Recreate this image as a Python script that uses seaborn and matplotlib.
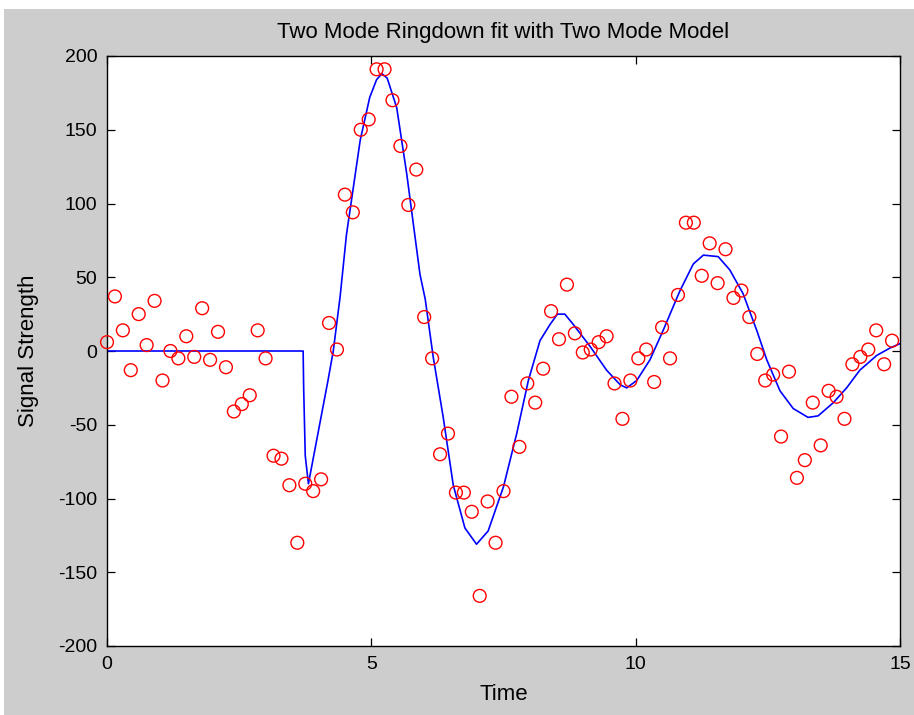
import numpy as np
import pandas as pd
import matplotlib
matplotlib.use("Agg")
import matplotlib.pyplot as plt
from matplotlib.patches import Rectangle
import seaborn as sns

# ---- data ----
time = [0.00, 0.15, 0.30, 0.45, 0.60, 0.75, 0.90, 1.05, 1.20, 1.35,
        1.50, 1.65, 1.80, 1.95, 2.10, 2.25, 2.40, 2.55, 2.70, 2.85,
        3.00, 3.15, 3.30, 3.45, 3.60, 3.75, 3.90, 4.05, 4.20, 4.35,
        4.50, 4.65, 4.80, 4.95, 5.10, 5.25, 5.40, 5.55, 5.70, 5.85,
        6.00, 6.15, 6.30, 6.45, 6.60, 6.75, 6.90, 7.05, 7.20, 7.35,
        7.50, 7.65, 7.80, 7.95, 8.10, 8.25, 8.40, 8.55, 8.70, 8.85,
        9.00, 9.15, 9.30, 9.45, 9.60, 9.75, 9.90, 10.05, 10.20, 10.35,
        10.50, 10.65, 10.80, 10.95, 11.10, 11.25, 11.40, 11.55, 11.70, 11.85,
        12.00, 12.15, 12.30, 12.45, 12.60, 12.75, 12.90, 13.05, 13.20, 13.35,
        13.50, 13.65, 13.80, 13.95, 14.10, 14.25, 14.40, 14.55, 14.70, 14.85]
signal = [6, 37, 14, -13, 25, 4, 34, -20, 0, -5,
          10, -4, 29, -6, 13, -11, -41, -36, -30, 14,
          -5, -71, -73, -91, -130, -90, -95, -87, 19, 1,
          106, 94, 150, 157, 191, 191, 170, 139, 99, 123,
          23, -5, -70, -56, -96, -96, -109, -166, -102, -130,
          -95, -31, -65, -22, -35, -12, 27, 8, 45, 12,
          -1, 1, 6, 10, -22, -46, -20, -5, 1, -21,
          16, -5, 38, 87, 87, 51, 73, 46, 69, 36,
          41, 23, -2, -20, -16, -58, -14, -86, -74, -35,
          -64, -27, -31, -46, -9, -4, 1, 14, -9, 7]

model_t = [0.00, 3.71, 3.72, 3.75, 3.81, 4.18, 4.28, 4.41, 4.53, 4.79,
           4.97, 5.10, 5.20, 5.30, 5.48, 5.67, 5.92, 6.02, 6.17, 6.36, 6.55,
           6.77, 6.99, 7.21, 7.50, 7.75, 7.97, 8.19, 8.38, 8.52, 8.66,
           8.82, 9.14, 9.45, 9.71, 9.83, 10.02, 10.27, 10.52, 10.65, 10.84,
           11.09, 11.28, 11.56, 11.78, 12.03, 12.29, 12.48, 12.73, 12.98, 13.26,
           13.45, 13.74, 13.99, 14.24, 14.56, 14.81, 15.00]
model_y = [0, 0, -25, -71, -90, -20, 0, 37, 79, 143,
           172, 184, 188, 185, 165, 120, 52, 35, -4, -45, -91,
           -120, -131, -122, -92, -56, -20, 7, 18, 25, 25,
           18, 3, -13, -23, -25, -20, -6, 14, 25, 41,
           59, 65, 64, 55, 39, 14, -6, -27, -39, -45,
           -44, -35, -25, -13, -3, 2, 5]

title = "Two Mode Ringdown fit with Two Mode Model"
xlabel = "Time"
ylabel = "Signal Strength"
xticks = [0, 5, 10, 15]
yticks = [-200, -150, -100, -50, 0, 50, 100, 150, 200]

df_pts = pd.DataFrame({"Time": time, "Signal": signal})
df_fit = pd.DataFrame({"Time": model_t, "Signal": model_y})

sns.set_style("ticks")
plt.rcParams["font.family"] = ["Liberation Sans", "DejaVu Sans"]
plt.rcParams["axes.unicode_minus"] = False
plt.rcParams["text.color"] = "black"
plt.rcParams["axes.labelcolor"] = "black"

fig = plt.figure(figsize=(9.14, 7.15), dpi=100, facecolor="white")
fig.patches.append(Rectangle((0.004, 0.0), 0.996, 1 - 9 / 715, transform=fig.transFigure,
                             facecolor="#cdcdcd", edgecolor="none", zorder=-10))

ax = fig.add_axes([107 / 914, 1 - 646 / 715, (900 - 107) / 914, (646 - 56) / 715])
ax.set_facecolor("white")

sns.lineplot(data=df_fit, x="Time", y="Signal", ax=ax, color="#0000ff",
             linewidth=1.2, estimator=None, sort=False, zorder=2)
sns.scatterplot(data=df_pts, x="Time", y="Signal", ax=ax, marker="o",
                s=85, facecolors="none", edgecolors="#ff0000", linewidth=1.0,
                zorder=3, clip_on=False)

ax.set_xlim(0, 15)
ax.set_ylim(-200, 200)
ax.set_xticks(xticks)
ax.set_yticks(yticks)
ax.tick_params(direction="in", length=6, width=0.9, top=True, right=True,
               labelsize=14, colors="black", pad=7)
for s in ax.spines.values():
    s.set_visible(True)
    s.set_color("black")
    s.set_linewidth(1.0)

ax.set_title(title, fontsize=16, pad=13, color="black")
ax.set_xlabel(xlabel, fontsize=16, labelpad=8, color="black")
ax.set_ylabel(ylabel, fontsize=16, labelpad=14, color="black")

fig.savefig("out.png", dpi=100, facecolor=fig.get_facecolor())
